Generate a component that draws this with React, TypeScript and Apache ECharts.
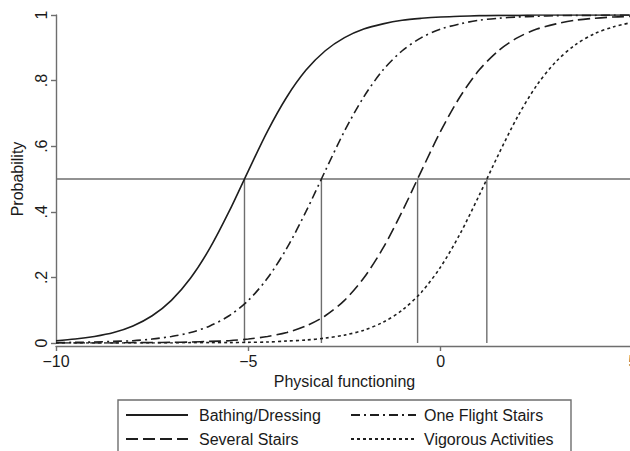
import React, { useEffect, useRef } from "react";
import * as echarts from "echarts";

// x positions (Physical functioning) at which the curves were read
const xValues = [
  -10, -9.5, -9, -8.5, -8, -7.5, -7, -6.5, -6, -5.5, -5, -4.5, -4, -3.5, -3, -2.5,
  -2, -1.5, -1, -0.5, 0, 0.5, 1, 1.5, 2, 2.5, 3, 3.5, 4, 4.5, 5,
];

const bathingDressing = [
  0.007, 0.012, 0.020, 0.032, 0.052, 0.083, 0.130, 0.198, 0.289, 0.401, 0.525, 0.646,
  0.750, 0.832, 0.891, 0.931, 0.957, 0.973, 0.984, 0.990, 0.994, 0.996, 0.998, 0.999,
  0.999, 1.0, 1.0, 1.0, 1.0, 1.0, 1.0,
];
const oneFlightStairs = [
  0.001, 0.002, 0.003, 0.005, 0.007, 0.012, 0.020, 0.032, 0.052, 0.083, 0.130, 0.198,
  0.289, 0.401, 0.525, 0.646, 0.750, 0.832, 0.891, 0.931, 0.957, 0.973, 0.984, 0.990,
  0.994, 0.996, 0.998, 0.999, 0.999, 1.0, 1.0,
];
const severalStairs = [
  0.0, 0.0, 0.0, 0.0, 0.001, 0.001, 0.002, 0.003, 0.005, 0.007, 0.012, 0.020, 0.032,
  0.052, 0.083, 0.130, 0.198, 0.289, 0.401, 0.525, 0.646, 0.750, 0.832, 0.891, 0.931,
  0.957, 0.973, 0.984, 0.990, 0.994, 0.996,
];
const vigorousActivities = [
  0.0, 0.0, 0.0, 0.0, 0.0, 0.0, 0.0, 0.001, 0.001, 0.001, 0.002, 0.003, 0.006, 0.009,
  0.015, 0.024, 0.039, 0.063, 0.100, 0.155, 0.232, 0.332, 0.450, 0.574, 0.690, 0.786,
  0.858, 0.909, 0.943, 0.964, 0.978,
];

// points where each curve crosses probability .5
const crossingX = [-5.1, -3.1, -0.6, 1.2];
const referenceY = 0.5;

const seriesNames = ["Bathing/Dressing", "One Flight Stairs", "Several Stairs", "Vigorous Activities"];

const FONT = "'Liberation Sans', Arial, Helvetica, sans-serif";
const CURVE = "#1e1e1e";
const GREY = "#6e6e6e";
const TEXT = "#1a1a1a";

function pairs(ys: number[]) {
  return xValues.map((x, i) => [x, ys[i]]);
}

export default function App() {
  const ref = useRef<HTMLDivElement>(null);

  useEffect(() => {
    if (!ref.current) return;
    const chart = echarts.init(ref.current, undefined, { renderer: "svg" });

    const curve = (name: string, ys: number[], type: any) => ({
      name,
      type: "line",
      data: pairs(ys),
      showSymbol: false,
      symbol: "none",
      smooth: 0.3,
      z: 5,
      lineStyle: { color: CURVE, width: 1.6, type },
      itemStyle: { color: CURVE },
    });

    const refSeries: any[] = [
      {
        type: "line",
        data: [
          [-10, referenceY],
          [5, referenceY],
        ],
        showSymbol: false,
        symbol: "none",
        silent: true,
        z: 2,
        lineStyle: { color: GREY, width: 1.4 },
      },
      ...crossingX.map((x) => ({
        type: "line",
        data: [
          [x, 0],
          [x, referenceY],
        ],
        showSymbol: false,
        symbol: "none",
        silent: true,
        z: 2,
        lineStyle: { color: GREY, width: 1.4 },
      })),
    ];

    const legendCommon = {
      orient: "vertical",
      top: 407,
      padding: 0,
      itemHeight: 16,
      itemGap: 8,
      selectedMode: false,
      itemStyle: { color: "rgba(0,0,0,0)", borderColor: "rgba(0,0,0,0)", borderWidth: 0, opacity: 0 },
    };

    chart.setOption({
      animation: false,
      grid: { left: 56, top: 15, width: 577, height: 328, containLabel: false, outerBoundsMode: "none" },
      xAxis: {
        type: "value",
        min: -10,
        max: 5,
        interval: 5,
        offset: 3,
        name: "Physical functioning",
        nameLocation: "middle",
        nameGap: 27,
        nameTextStyle: { fontFamily: FONT, fontSize: 16, color: TEXT },
        axisLine: { show: true, onZero: false, lineStyle: { color: GREY, width: 1.4 } },
        axisTick: { show: true, length: 5, lineStyle: { color: GREY, width: 1.4 } },
        axisLabel: {
          fontFamily: FONT,
          fontSize: 16,
          color: TEXT,
          margin: 7,
          formatter: (v: number) => String(v).replace("-", "\u2212"),
        },
        splitLine: { show: false },
      },
      yAxis: {
        type: "value",
        min: 0,
        max: 1,
        interval: 0.2,
        name: "Probability",
        nameLocation: "middle",
        nameGap: 28,
        nameTextStyle: { fontFamily: FONT, fontSize: 16, color: TEXT },
        axisLine: { show: true, onZero: false, lineStyle: { color: GREY, width: 1.4 } },
        axisTick: { show: true, length: 5, lineStyle: { color: GREY, width: 1.4 } },
        axisLabel: {
          fontFamily: FONT,
          fontSize: 16,
          color: TEXT,
          rotate: 90,
          margin: 7,
          formatter: (v: number) => {
            const r = Math.round(v * 10) / 10;
            if (r === 0) return "0";
            if (r === 1) return "1";
            return "." + Math.round(r * 10);
          },
        },
        splitLine: { show: false },
      },
      legend: [
        {
          ...legendCommon,
          data: [seriesNames[0], seriesNames[2]],
          left: 125,
          itemWidth: 62,
          textStyle: { fontFamily: FONT, fontSize: 16, color: TEXT, padding: [0, 0, 0, 6] },
        },
        {
          ...legendCommon,
          data: [seriesNames[1], seriesNames[3]],
          left: 350,
          itemWidth: 65,
          textStyle: { fontFamily: FONT, fontSize: 16, color: TEXT, padding: [0, 0, 0, 3] },
        },
      ],
      graphic: [
        {
          type: "rect",
          shape: { x: 118, y: 400, width: 453, height: 70 },
          style: { fill: "none", stroke: GREY, lineWidth: 1.4 },
          silent: true,
        },
      ],
      series: [
        ...refSeries,
        curve(seriesNames[0], bathingDressing, "solid"),
        curve(seriesNames[1], oneFlightStairs, [9, 4, 2, 4]),
        curve(seriesNames[2], severalStairs, [12, 5]),
        curve(seriesNames[3], vigorousActivities, [3, 3]),
      ],
    });

    return () => chart.dispose();
  }, []);

  return (
    <div
      ref={ref}
      style={{ position: "fixed", left: 0, top: 0, width: 630, height: 451, background: "#fff" }}
    />
  );
}
